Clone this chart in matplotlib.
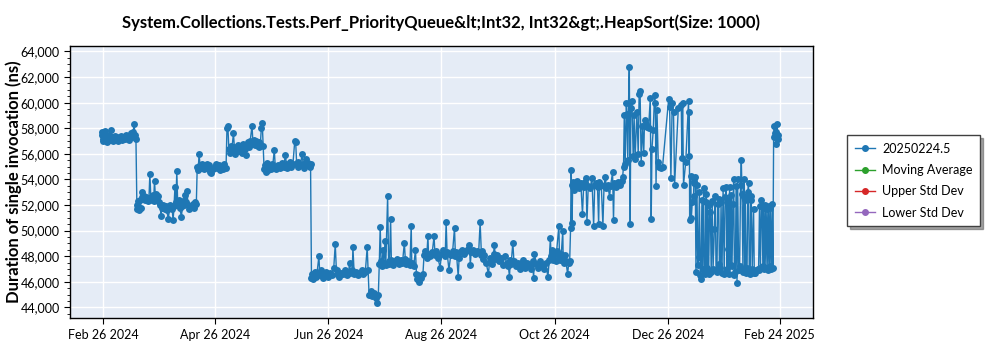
import numpy as np
import pandas as pd
import matplotlib
matplotlib.use("Agg")
import matplotlib.pyplot as plt
import matplotlib.dates as mdates
from matplotlib.lines import Line2D
from matplotlib.ticker import FuncFormatter, MultipleLocator, AutoMinorLocator

base_date = "2024-02-26"

# run time = days after base_date, duration in ns; one pair of lists per plateau
a_days = [-1.0, -0.7, -0.4, 0.0, 0.3, 0.7, 1.0, 1.5, 2.0, 2.5, 3.0, 3.5, 4.0, 4.5, 5.0, 5.5, 6.0, 7.0, 7.5, 8.0,
          9.0, 9.5, 10.0, 11.0, 11.5, 12.0, 13.0, 13.5, 14.0, 15.0, 15.5, 16.0, 16.5, 17.0, 17.5]
a_ns = [57500, 57700, 57200, 57000, 57400, 57800, 57100, 57300, 56900, 57200, 57500, 57100, 57900, 57300, 57000,
        57200, 57400, 57100, 57300, 57000, 57200, 57400, 57100, 57300, 57200, 57500, 57300, 57100, 57400, 57600,
        57300, 57700, 58300, 57500, 57200]

b_days = [18.0, 18.3, 18.6, 19.0, 19.5, 20.0, 20.5, 21.0, 21.5, 22.0, 22.5, 23.0, 24.0, 24.5, 25.0, 25.5, 26.0,
          26.5, 27.0, 27.5, 28.0, 28.5, 29.0, 29.5, 30.0, 30.5, 31.0, 31.5, 32.0, 33.0, 33.5, 34.0, 35.0, 35.5,
          36.0, 37.0, 37.5, 38.0, 38.5, 39.0, 39.5, 40.0, 40.5, 41.0, 42.0, 42.5, 43.0, 43.5, 44.0, 44.5, 45.0,
          45.5, 46.0, 47.0, 48.0, 48.5, 49.0, 49.5, 50.0]
b_ns = [52000, 51700, 52300, 51600, 52400, 51800, 52600, 53000, 52500, 52700, 52400, 52600, 52300, 52500, 54450,
        52600, 52400, 52800, 52300, 53900, 52600, 52900, 52500, 52700, 52200, 52000, 51150, 51800, 52000, 51700,
        51900, 51600, 50900, 51800, 52000, 51700, 50800, 51900, 53400, 52200, 54650, 52000, 52400, 51800, 51100,
        51900, 52300, 52000, 52800, 52200, 53100, 52000, 51700, 51900, 52100, 51800, 52000, 52200, 52100]

c_days = [50.5, 51.0, 51.5, 52.0, 52.5, 53.0, 54.0, 55.0, 55.5, 56.0, 57.0, 57.5, 58.0, 59.0, 60.0, 60.5, 61.0,
          62.0, 63.0, 64.0, 64.5, 65.0, 66.0]
c_ns = [55000, 54700, 56000, 55100, 54900, 55200, 54800, 55000, 55200, 54900, 55100, 54600, 54500, 54800, 55000,
        55200, 54900, 55100, 54700, 55000, 54800, 55200, 54900]

d_days = [66.5, 67.0, 67.5, 68.0, 68.5, 69.0, 70.0, 70.5, 71.0, 72.0, 72.5, 73.0, 74.0, 74.5, 75.0, 76.0, 76.5,
          77.0, 78.0, 78.5, 79.0, 80.0, 80.5, 81.0, 81.5, 82.0, 83.0, 83.5, 84.0, 84.5, 85.0, 85.5, 86.0]
d_ns = [58000, 58150, 56400, 56100, 56600, 56200, 57600, 56500, 56000, 56300, 56700, 56200, 56500, 56100, 56800,
        56400, 55900, 56600, 56900, 56500, 57000, 58200, 56800, 57100, 56700, 57000, 56600, 56900, 56500, 56800,
        58000, 58400, 56600]

e_days = [86.5, 87.0, 87.5, 88.0, 88.5, 89.0, 90.0, 90.5, 91.0, 92.0, 92.5, 93.0, 94.0, 95.0, 96.0, 97.0, 98.0,
          98.5, 99.0, 100.0, 100.5, 101.0, 102.0, 103.0, 103.5, 104.0, 104.5, 105.0, 106.0, 107.0, 107.5, 108.0,
          109.0, 109.5, 110.0, 111.0, 111.5]
e_ns = [54800, 55100, 54600, 55300, 54700, 55000, 54800, 55200, 54900, 56300, 55000, 54800, 55100, 54900, 55300,
        55000, 55900, 55200, 54900, 55100, 55400, 55000, 55200, 57000, 56900, 55300, 55000, 55400, 55100, 56000,
        55200, 54900, 55600, 55100, 55300, 55000, 55200]

f_days = [112.0, 112.5, 113.0, 114.0, 114.5, 115.0, 116.0, 116.5, 117.0, 118.0, 119.0, 120.0, 121.0, 122.0,
          123.0, 124.0, 124.8, 125.5, 126.0, 127.0, 128.0, 129.0, 130.0, 131.0, 132.0, 132.5, 133.0, 134.0,
          134.3, 135.0, 136.0, 137.0, 138.0, 139.0, 140.0, 141.0, 142.0, 142.5]
f_ns = [46300, 46600, 46200, 46800, 46400, 46700, 48000, 46500, 46900, 46300, 46600, 46800, 46400, 46700, 46500,
        47100, 48950, 46600, 46900, 46400, 46700, 46600, 46900, 46500, 46800, 47450, 46700, 46900, 48750, 46600,
        46800, 46500, 46700, 46900, 46600, 46800, 48700, 46900]

g_days = [143.0, 144.0, 144.5, 145.5, 146.5, 147.5, 148.0]
g_ns = [45000, 45300, 44900, 45100, 44700, 44350, 45000]

h_days = [148.5, 149.0, 149.5, 150.0, 150.5, 151.0, 151.6, 152.0, 153.0, 153.5, 154.0, 154.6, 155.0, 156.0,
          157.0, 158.0, 159.0, 160.0, 161.0, 162.0, 162.5, 163.0, 164.0, 165.0, 165.7, 166.0, 167.0, 168.0]
h_ns = [47400, 50300, 47600, 47200, 48500, 47500, 49200, 47300, 52700, 47600, 47400, 50900, 47700, 47300, 47600,
        47800, 47400, 47700, 47500, 49050, 47800, 47400, 47600, 47300, 50400, 47500, 47200, 48500]

i_days = [168.5, 169.0, 169.5, 170.0, 171.0, 172.0]
i_ns = [46600, 46200, 46500, 45950, 46300, 46600]

j_days = [172.6, 173.0, 174.0, 174.7, 175.0, 176.0, 177.0, 178.0, 178.5, 179.0, 180.0, 181.3, 182.0, 183.0,
          184.0, 184.5, 185.0, 186.0, 187.0, 188.0, 189.0, 189.5, 190.0, 191.0, 191.5]
j_ns = [48100, 48400, 47900, 49550, 48200, 48000, 48300, 49550, 48100, 48400, 47900, 47100, 48200, 48500, 48000,
        50650, 48300, 46950, 48100, 48400, 50200, 48000, 48300, 46400, 47900]

k_days = [192.0, 193.0, 194.0, 195.0, 196.0, 197.0, 197.5, 198.0, 199.0, 200.0, 201.0, 202.0, 202.8, 203.5, 204.0]
k_ns = [48300, 48500, 48200, 48400, 48600, 48900, 47350, 48300, 48500, 48200, 48400, 48300, 50650, 48100, 48400]

l_days = [204.5, 205.0, 206.0, 207.3, 208.0, 209.0, 210.0, 210.5, 211.0, 212.0, 213.0, 214.0, 215.0, 216.0,
          217.0, 218.0, 218.6, 219.0]
l_ns = [47800, 48100, 47500, 46600, 47900, 47400, 48200, 48900, 47800, 48100, 47600, 47900, 47300, 48000, 47500,
        47200, 46400, 47700]

m_days = [219.5, 220.4, 221.0, 222.0, 223.0, 224.0, 225.0, 226.0, 227.0, 228.0, 229.0, 230.0, 231.0, 231.6,
          232.0, 233.0, 234.0, 235.0, 236.0, 237.0, 238.0, 239.3, 240.0, 240.6]
m_ns = [47400, 49050, 47600, 47200, 47500, 47000, 47400, 47700, 47100, 47500, 47300, 47000, 47600, 46300, 48200,
        47400, 47100, 47600, 47300, 47000, 47500, 46400, 47700, 49400]

n_days = [241.0, 241.5, 242.0, 243.0, 243.5, 244.0, 245.2, 245.5, 246.0, 246.5, 247.3, 247.5, 248.0, 248.5,
          249.0, 249.9, 250.5, 251.0]
n_ns = [48000, 48500, 47700, 48200, 47600, 48400, 50400, 48000, 47700, 48200, 50000, 47800, 47500, 48100, 47600,
        46600, 47500, 47600]

o_days = [251.5, 251.8, 252.0, 252.3, 252.6, 253.0, 253.5, 254.0, 254.5, 255.0, 256.0, 257.0, 257.9, 258.5,
          259.0, 259.8, 260.3, 261.0, 262.0, 263.0, 263.9, 264.5, 265.0, 266.0, 266.6, 267.0, 268.0, 268.9,
          269.5, 270.2, 270.8, 271.5, 272.5, 273.0, 274.1, 274.6, 275.0, 276.0, 277.0, 278.0, 279.0, 279.5, 280.0]
o_ns = [50200, 54700, 53600, 50600, 53400, 53800, 53200, 53700, 53500, 53900, 53300, 53700, 51300, 53400, 53800,
        54100, 50650, 53500, 53300, 54100, 50400, 53600, 53700, 53400, 50500, 53800, 53600, 50400, 53500, 54200,
        53300, 53600, 52650, 53500, 54550, 50800, 53700, 53400, 53800, 53600, 53900, 54200, 55000]

p_days = [280.4, 280.9, 281.5, 281.8, 282.3, 282.7, 283.1, 283.6, 283.9, 284.5, 285.2, 285.7, 286.2, 287.2,
          287.9, 288.4, 288.9, 289.5, 290.2, 290.9, 291.3, 292.0, 292.9, 293.5, 294.4, 294.9, 295.3, 296.0,
          296.7, 297.1, 297.5, 298.0, 298.7, 299.3, 300.4, 301.0]
p_ns = [59000, 55200, 60000, 59100, 55500, 60000, 62750, 50500, 59600, 60100, 55800, 59000, 55600, 59250, 56000,
        60700, 60900, 55300, 58200, 56100, 58650, 58300, 58100, 58050, 60350, 50900, 56400, 57900, 60600, 60000,
        53500, 59400, 55400, 55000, 54900, 55000]

q_days = [304.3, 304.8, 305.5, 306.2, 306.9, 307.5, 309.5, 311.1, 311.4, 311.8, 312.3, 313.5, 315.0, 315.2,
          315.4, 315.6, 316.2, 316.5, 317.0, 317.7, 317.9, 318.2]
q_ns = [60300, 59650, 54150, 60000, 59250, 53600, 59600, 59800, 55700, 60000, 53600, 55400, 60150, 55800, 59250,
        50800, 54300, 51000, 52200, 52700, 53900, 53700]

r_days = [318.6, 319.0, 319.5, 320.0, 320.4, 320.8, 321.3, 321.7, 322.2, 322.6, 323.1, 323.5, 324.0, 324.3,
          324.6, 325.0, 325.4, 325.8, 326.3, 326.7, 327.2, 327.7, 328.2, 328.9, 329.4, 329.8, 330.3, 330.7,
          331.2, 331.6, 332.1, 332.5, 333.0, 333.6, 334.2, 334.7, 335.3, 335.7, 336.0, 336.3, 336.6, 337.1,
          337.6, 338.0, 338.4, 338.9, 339.3, 339.7, 340.2, 340.6, 341.1, 341.4, 342.0, 342.5, 343.0, 343.4,
          343.8, 344.3, 344.7, 345.0, 345.3, 345.6, 346.0, 346.5, 346.9, 347.3, 347.7, 348.2, 348.5, 348.8,
          349.3, 350.0, 350.4, 350.9, 351.5, 352.2, 352.7, 353.2, 353.7, 354.2, 354.6, 355.0, 355.4, 355.8,
          356.3, 356.7, 357.2, 357.7, 358.1, 358.6, 359.0, 359.5, 360.0, 360.4]
r_ns = [54200, 46800, 53600, 47300, 47950, 53000, 46500, 46200, 52400, 47000, 53350, 46900, 46600, 52200, 52900,
        47100, 52000, 46600, 51450, 52100, 46800, 52300, 47000, 50100, 52700, 46900, 46800, 52100, 52500, 47400,
        47100, 52200, 46700, 53300, 46600, 52600, 53400, 47000, 48600, 52300, 46600, 53400, 47300, 52800, 47200,
        52100, 54000, 46500, 46800, 53500, 45900, 54000, 46900, 47200, 53600, 55500, 52900, 46800, 52600, 54000,
        47000, 52400, 46700, 47100, 53000, 53700, 46900, 46600, 52700, 52400, 47000, 51700, 46700, 46700, 46900,
        47000, 46900, 51900, 47100, 52400, 52000, 47200, 51800, 47000, 52000, 47100, 51700, 46900, 51900, 47200,
        51800, 47000, 52100, 47100]

s_days = [360.8, 361.1, 361.5, 361.9, 362.3, 362.7, 363.1, 363.4]
s_ns = [57300, 58200, 57600, 56800, 57700, 58300, 57200, 57500]

tick_dates = ["2024-02-26", "2024-04-26", "2024-06-26", "2024-08-26", "2024-10-26", "2024-12-26", "2025-02-24"]
x_range = ["2024-02-08", "2025-03-14"]
y_range = (43150, 64430)

series_label = "20250224.5"
legend_labels = [series_label, "Moving Average", "Upper Std Dev", "Lower Std Dev"]
legend_colors = ["#1f77b4", "#2ca02c", "#d62728", "#9467bd"]
title = "System.Collections.Tests.Perf_PriorityQueue&lt;Int32, Int32&gt;.HeapSort(Size: 1000)"
ylabel = "Duration of single invocation (ns)"

day_parts = [a_days, b_days, c_days, d_days, e_days, f_days, g_days, h_days, i_days, j_days,
             k_days, l_days, m_days, n_days, o_days, p_days, q_days, r_days, s_days]
ns_parts = [a_ns, b_ns, c_ns, d_ns, e_ns, f_ns, g_ns, h_ns, i_ns, j_ns,
            k_ns, l_ns, m_ns, n_ns, o_ns, p_ns, q_ns, r_ns, s_ns]
for dd, vv in zip(day_parts, ns_parts):
    assert len(dd) == len(vv), (len(dd), len(vv), dd[0])

days = np.concatenate(day_parts)
durations = np.concatenate(ns_parts)
when = pd.Timestamp(base_date) + pd.to_timedelta(days, unit="D")

plt.rcParams["font.family"] = ["Lato", "DejaVu Sans"]

fig = plt.figure(figsize=(10, 3.5), dpi=100)
ax = fig.add_axes([0.070, 0.0906, 0.743, 0.778])
ax.set_facecolor("#E5ECF6")

ax.plot(when, durations, color=legend_colors[0], lw=1.0, marker="o", markersize=5,
        markeredgewidth=0, zorder=3)

ax.set_xlim(pd.Timestamp(x_range[0]), pd.Timestamp(x_range[1]))
ax.set_ylim(*y_range)
ax.set_xticks([pd.Timestamp(t) for t in tick_dates])
ax.xaxis.set_major_formatter(mdates.DateFormatter("%b %d %Y"))
ax.yaxis.set_major_locator(MultipleLocator(2000))
ax.yaxis.set_minor_locator(AutoMinorLocator(4))
ax.yaxis.set_major_formatter(FuncFormatter(lambda v, p: f"{int(v):,}"))
ax.tick_params(labelsize=9, length=4, color="black")
ax.tick_params(axis="y", which="minor", length=2)
ax.grid(True, color="white", lw=1.0, zorder=0)
ax.set_axisbelow(True)
for sp in ax.spines.values():
    sp.set_color("black")
    sp.set_linewidth(1.0)

ax.set_title(title, fontsize=12, fontweight="bold", pad=13)
ax.set_ylabel(ylabel, fontsize=12, fontweight="bold")
ax.yaxis.set_label_coords(-0.064, 0.5)

handles = [Line2D([0], [0], color=c, lw=1.0, marker="o", markersize=4) for c in legend_colors]
leg = fig.legend(handles, legend_labels, loc="upper left", bbox_to_anchor=(0.847, 0.614),
                 borderaxespad=0, fontsize=9, frameon=True, fancybox=False, shadow=True,
                 handlelength=1.6, handletextpad=0.6, borderpad=0.6, labelspacing=0.75)
leg.get_frame().set_edgecolor("#404040")
leg.get_frame().set_linewidth(1.0)

fig.savefig("out.png", dpi=100)
